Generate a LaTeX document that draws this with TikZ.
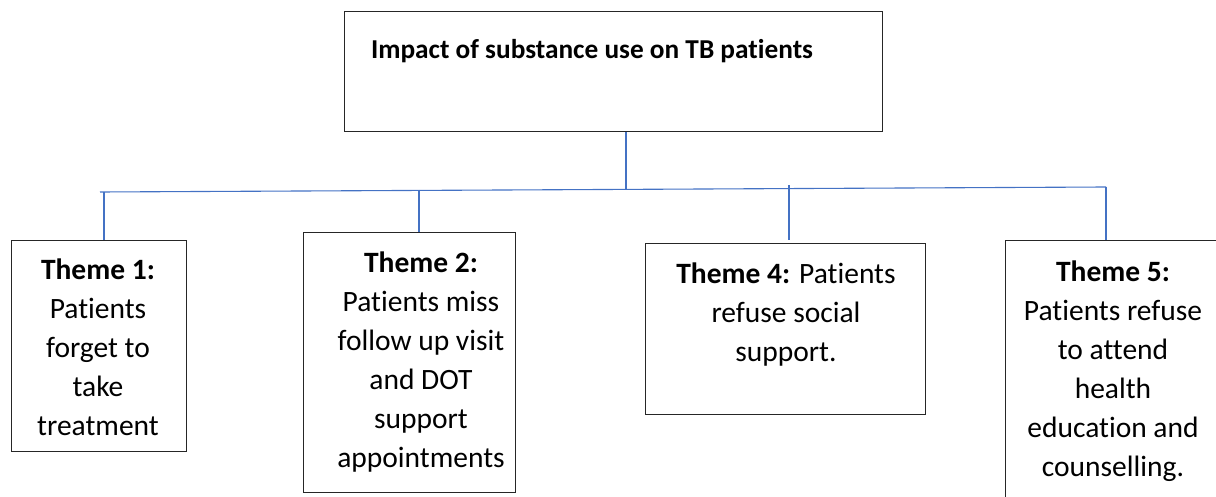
\documentclass[tikz,border=0pt]{standalone}
\usepackage{fontspec}
\setmainfont{Carlito}[Ligatures=NoCommon]
\usetikzlibrary{positioning}
\definecolor{linkblue}{RGB}{68,114,196}

\begin{document}
\begin{tikzpicture}[x=1pt, y=-1pt,
    themebox/.style={draw=black!85, line width=1.3pt, rectangle, inner sep=0pt, anchor=north west},
    themetext/.style={anchor=north, align=center, inner sep=0pt, font=\fontsize{29.5}{39}\selectfont},
    link/.style={draw=linkblue, line width=1.1pt}]
        \clip (0,0) rectangle (1216,497);

        % boxes
        \node[themebox, minimum width=538, minimum height=120] (impact) at (344,11) {};
        \node[themebox, minimum width=175, minimum height=211] (t1) at (11,240) {};
        \node[themebox, minimum width=212, minimum height=260] (t2) at (303,232) {};
        \node[themebox, minimum width=280, minimum height=171] (t4) at (645,243) {};
        \node[themebox, minimum width=230, minimum height=290] (t5) at (1005,240) {};

        % texts
        \node[themetext, font=\fontsize{27.3}{33}\selectfont] (impacttext) at (592,39) {\textbf{Impact of substance use on TB patients}};
        \node[themetext] (t1text) at (98,259) {\textbf{Theme 1:}\\Patients\\forget to\\take\\treatment};
        \node[themetext] (t2text) at (421,252) {\textbf{Theme 2:}\\Patients miss\\follow up visit\\and DOT\\support\\appointments};
        \node[themetext] (t4text) at (786,263) {\textbf{Theme 4:} Patients\\refuse social\\support.};
        \node[themetext] (t5text) at (1113,261) {\textbf{Theme 5:}\\Patients refuse\\to attend\\health\\education and\\counselling.};

        % connectors
        \coordinate (busL) at (100,192);
        \coordinate (busR) at (1106,187);
        \coordinate (hub) at (626,189);
        \draw[link] (busL) -- (busR);
        \draw[link] (impact.south -| hub) -- (hub);
        \draw[link] (busL -| 104,0) -- (104,240);
        \draw[link] (419,190) -- (t2.north -| 419,0);
        \draw[link] (789,185) -- (789,240);
        \draw[link] (busR) -- (1106,240);
    \end{tikzpicture}
\end{document}
